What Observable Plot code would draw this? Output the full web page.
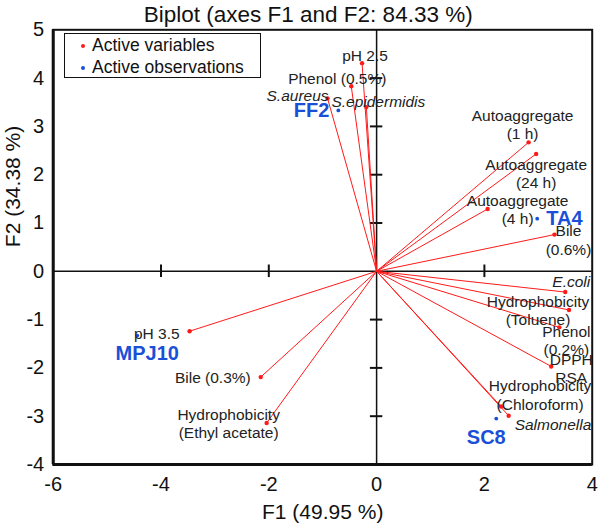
<!DOCTYPE html>
<html>
<head>
<meta charset="utf-8">
<script src="https://cdn.jsdelivr.net/npm/d3@7"></script>
<script src="https://cdn.jsdelivr.net/npm/@observablehq/plot@0.6"></script>
<style>
  html, body { margin: 0; padding: 0; background: #fff; }
  #wrap { position: relative; width: 598px; height: 526px; font-family: "Liberation Sans", Arial, sans-serif; }
  #legend { position: absolute; left: 64px; top: 33px; width: 195px; height: 43px; border: 1.5px solid #111; background: #fff; font-size: 17.5px; color: #111; }
  .li { position: absolute; left: 27px; line-height: 20px; white-space: nowrap; }
  .ld { position: absolute; left: 16px; width: 4px; height: 4px; border-radius: 50%; }
</style>
</head>
<body>
<div id="wrap">
  <div id="chart"></div>
  <div id="legend">
    <span class="ld" style="top:10px;background:#ff1a1a"></span><span class="li" style="top:1px">Active variables</span>
    <span class="ld" style="top:32px;background:#1a4fd8"></span><span class="li" style="top:23px">Active observations</span>
  </div>
</div>
<script>
// ---- data ----
const titleText = "Biplot (axes F1 and F2: 84.33 %)";
const xLabel = "F1 (49.95 %)";
const yLabel = "F2 (34.38 %)";
const xTicks = [-6, -4, -2, 0, 2, 4];
const yTicks = [-4, -3, -2, -1, 0, 1, 2, 3, 4, 5];

const varNames = ["pH 2.5", "Phenol (0.5%)", "S.aureus", "S.epidermidis",
  "Autoaggregate\n(1 h)", "Autoaggregate\n(24 h)", "Autoaggregate\n(4 h)", "Bile\n(0.6%)",
  "E.coli", "Hydrophobicity\n(Toluene)", "Phenol\n(0.2%)", "DPPH\nRSA",
  "Hydrophobicity\n(Chloroform)", "Salmonella", "pH 3.5", "Bile (0.3%)",
  "Hydrophobicity\n(Ethyl acetate)"];
const varF1 = [-0.27, -0.47, -0.91, -0.19, 2.82, 2.96, 2.06, 3.30, 3.50, 3.57, 3.39, 3.24, 2.31, 2.45, -3.47, -2.15, -2.04];
const varF2 = [4.31, 3.83, 3.58, 3.40, 2.67, 2.43, 1.29, 0.76, -0.43, -0.80, -1.16, -1.97, -2.80, -2.99, -1.24, -2.19, -3.14];
const varItalic = [false, false, true, true, false, false, false, false, true, false, false, false, false, true, false, false, false];

const obsNames = ["FF2", "TA4", "MPJ10", "SC8"];
const obsF1 = [-0.71, 2.98, -4.44, 2.22];
const obsF2 = [3.33, 1.09, -1.33, -3.05];

// ---- label layout (styling only) ----
const varLabelLayout = [
  {dx: 3, dy: -8, a: "middle"},
  {dx: -14, dy: -8, a: "middle"},
  {dx: 1, dy: -3, a: "end"},
  {dx: 12, dy: -6, a: "middle"},
  {dx: -6, dy: -18, a: "middle"},
  {dx: 0, dy: 19, a: "middle"},
  {dx: 30, dy: 0, a: "middle"},
  {dx: 14, dy: 5, a: "middle"},
  {dx: 25, dy: -11, a: "end"},
  {dx: -31, dy: 0, a: "middle"},
  {dx: 7, dy: 13, a: "middle"},
  {dx: 20, dy: 2, a: "middle"},
  {dx: 39, dy: -12, a: "middle"},
  {dx: 6, dy: 8, a: "start"},
  {dx: -10, dy: 2, a: "end"},
  {dx: -10, dy: 0, a: "end"},
  {dx: -38, dy: 0, a: "middle"}
];
const obsLabelLayout = [
  {dx: -9, dy: 0, a: "end"},
  {dx: 9, dy: 0, a: "start"},
  {dx: 10, dy: 18, a: "middle"},
  {dx: -10, dy: 19, a: "middle"}
];

const vars = varNames.map((n, i) => ({name: n, x: varF1[i], y: varF2[i], italic: varItalic[i], ...varLabelLayout[i]}));
const obs = obsNames.map((n, i) => ({name: n, x: obsF1[i], y: obsF2[i], ...obsLabelLayout[i]}));

const RED = "#ff1a1a";
const BLUE = "#1a4fd8";
const TXT = "#222";

const varLabelMarks = vars.map(d => Plot.text([d], {
  x: "x", y: "y", text: "name", dx: d.dx, dy: d.dy, textAnchor: d.a,
  lineAnchor: "middle", lineHeight: 1.18, fontSize: 15.5, fill: TXT,
  fontStyle: d.italic ? "italic" : "normal"
}));
const obsLabelMarks = obs.map(d => Plot.text([d], {
  x: "x", y: "y", text: "name", dx: d.dx, dy: d.dy, textAnchor: d.a,
  lineAnchor: "middle", fontSize: 20, fontWeight: "bold", fill: BLUE
}));

const innerYTicks = yTicks.filter(v => v !== 0 && v !== 5 && v !== -4);
const innerXTicks = xTicks.filter(v => v !== 0 && v !== -6 && v !== 4);

const chart = Plot.plot({
  width: 598,
  height: 526,
  marginLeft: 52.7,
  marginRight: 6.3,
  marginTop: 29.3,
  marginBottom: 62,
  style: {fontFamily: "'Liberation Sans', Arial, sans-serif", background: "white", color: "#111", overflow: "visible"},
  x: {domain: [-6, 4]},
  y: {domain: [-4, 5]},
  marks: [
    Plot.axisX({ticks: xTicks, tickSize: 0, tickPadding: 12, fontSize: 20, label: null, tickFormat: d => String(d)}),
    Plot.axisY({ticks: yTicks, tickSize: 0, tickPadding: 9, fontSize: 20, label: null, tickFormat: d => String(d)}),
    Plot.ruleX([0], {stroke: "#111", strokeWidth: 1.5}),
    Plot.ruleY([0], {stroke: "#111", strokeWidth: 1.5}),
    Plot.ruleY(innerYTicks, {y: d => d, x1: -0.115, x2: 0.115, stroke: "#111", strokeWidth: 2}),
    Plot.ruleX(innerXTicks, {x: d => d, y1: -0.13, y2: 0.13, stroke: "#111", strokeWidth: 2}),
    Plot.link(vars, {x1: () => 0, y1: () => 0, x2: "x", y2: "y", stroke: RED, strokeWidth: 1}),
    Plot.dot(vars, {x: "x", y: "y", r: 2.2, fill: RED}),
    Plot.dot(obs, {x: "x", y: "y", r: 1.9, fill: BLUE}),
    ...varLabelMarks,
    ...obsLabelMarks,
    Plot.frame({stroke: "#111", strokeWidth: 2}),
    Plot.ruleX([-6], {stroke: "#111", strokeWidth: 3}),
    Plot.ruleY([-4], {stroke: "#111", strokeWidth: 3}),
    Plot.text([titleText], {frameAnchor: "top", text: d => d, dx: -14.5, dy: -15, lineAnchor: "middle", fontSize: 22.5, fill: "#111"}),
    Plot.text([xLabel], {frameAnchor: "bottom", text: d => d, dy: 48, lineAnchor: "middle", fontSize: 21, fill: "#111"}),
    Plot.text([yLabel], {frameAnchor: "left", text: d => d, dx: -40, rotate: -90, lineAnchor: "middle", fontSize: 21, fill: "#111"})
  ]
});
document.getElementById("chart").appendChild(chart);
</script>
</body>
</html>
